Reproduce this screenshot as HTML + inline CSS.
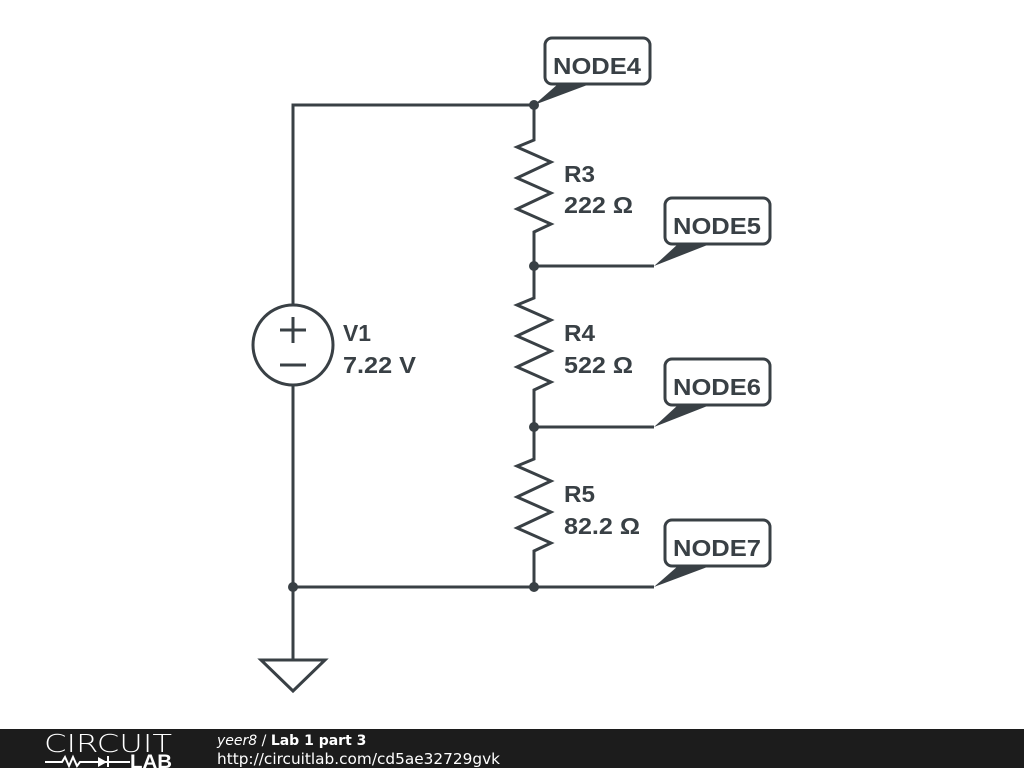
<!DOCTYPE html>
<html><head><style>
html,body{margin:0;padding:0;background:#fff;width:1024px;height:768px;overflow:hidden}
svg{position:absolute;left:0;top:0}
</style></head><body>
<svg width="1024" height="768" viewBox="0 0 1024 768" font-family="Liberation Sans, sans-serif">
<g stroke="#394045" stroke-width="3" fill="none" stroke-linejoin="miter">
<polyline points="534,105 293,105 293,305"/>
<polyline points="293,385 293,587 534,587"/>
<line x1="293" y1="587" x2="293" y2="660"/>
<polygon points="261,660 325,660 293,691"/>
<circle cx="293" cy="345" r="40"/>
<line x1="280" y1="330" x2="306" y2="330"/><line x1="293" y1="317" x2="293" y2="343"/>
<line x1="280" y1="365" x2="306" y2="365"/>
<polyline points="534,105 534,140 517,147 551,162 517,178 551,193 517,209 551,224 534,232 534,298 517,305 551,320 517,336 551,351 517,367 551,382 534,390 534,459 517,466 551,481 517,497 551,512 517,528 551,543 534,551 534,587 654,587"/>
<line x1="534" y1="266" x2="654" y2="266"/>
<line x1="534" y1="427" x2="654" y2="427"/>
<rect x="545" y="38" width="105" height="46" rx="7" fill="#fff"/>
<rect x="665" y="198" width="105" height="46" rx="7" fill="#fff"/>
<rect x="665" y="359" width="105" height="46" rx="7" fill="#fff"/>
<rect x="665" y="520" width="105" height="46" rx="7" fill="#fff"/>
</g>
<g fill="#394045">
<polygon points="534,105 558,84 590,84"/>
<polygon points="654,266 678,244 710,244"/>
<polygon points="654,427 678,405 710,405"/>
<polygon points="654,587 678,566 710,566"/>
<circle cx="534" cy="105" r="5"/><circle cx="534" cy="266" r="5"/><circle cx="534" cy="427" r="5"/><circle cx="534" cy="587" r="5"/><circle cx="293" cy="587" r="5"/>
</g>
<g fill="#394045" font-weight="bold" font-size="23" lengthAdjust="spacingAndGlyphs">
<text x="553" y="74" textLength="88" lengthAdjust="spacingAndGlyphs">NODE4</text>
<text x="673" y="234" textLength="88" lengthAdjust="spacingAndGlyphs">NODE5</text>
<text x="673" y="395" textLength="88" lengthAdjust="spacingAndGlyphs">NODE6</text>
<text x="673" y="556" textLength="88" lengthAdjust="spacingAndGlyphs">NODE7</text>
<text x="564" y="182" textLength="31" lengthAdjust="spacingAndGlyphs">R3</text><text x="564" y="213" textLength="69" lengthAdjust="spacingAndGlyphs">222 Ω</text>
<text x="564" y="341" textLength="31" lengthAdjust="spacingAndGlyphs">R4</text><text x="564" y="373" textLength="69" lengthAdjust="spacingAndGlyphs">522 Ω</text>
<text x="564" y="502" textLength="31" lengthAdjust="spacingAndGlyphs">R5</text><text x="564" y="534" textLength="76" lengthAdjust="spacingAndGlyphs">82.2 Ω</text>
<text x="343" y="341" textLength="28" lengthAdjust="spacingAndGlyphs">V1</text><text x="343" y="373" textLength="73" lengthAdjust="spacingAndGlyphs">7.22 V</text>
</g>
<rect x="0" y="729" width="1024" height="39" fill="#1c1c1c"/>
<text x="44" y="752" fill="#fff" font-size="25" font-family="DejaVu Sans, sans-serif" font-weight="200" textLength="128" lengthAdjust="spacingAndGlyphs">CIRCUIT</text>
<g stroke="#fff" stroke-width="2" fill="none"><polyline points="45,762 62,762 65,757 69,766 73,757 77,766 80,762 92,762"/><line x1="92" y1="762" x2="130" y2="762"/></g>
<polygon points="98,757 98,767 107,762" fill="#fff"/><line x1="108" y1="756" x2="108" y2="767" stroke="#fff" stroke-width="2"/>
<text x="130" y="768" fill="#fff" font-size="19" font-weight="bold" textLength="42" lengthAdjust="spacingAndGlyphs">LAB</text>
<text x="217" y="745" fill="#fff" font-size="14" font-family="DejaVu Sans, sans-serif"><tspan font-style="italic">yeer8</tspan> / <tspan font-weight="bold">Lab 1 part 3</tspan></text>
<text x="217" y="764" fill="#fff" font-size="15" font-family="DejaVu Sans, sans-serif" textLength="283" lengthAdjust="spacingAndGlyphs">http://circuitlab.com/cd5ae32729gvk</text>
</svg>
</body></html>
